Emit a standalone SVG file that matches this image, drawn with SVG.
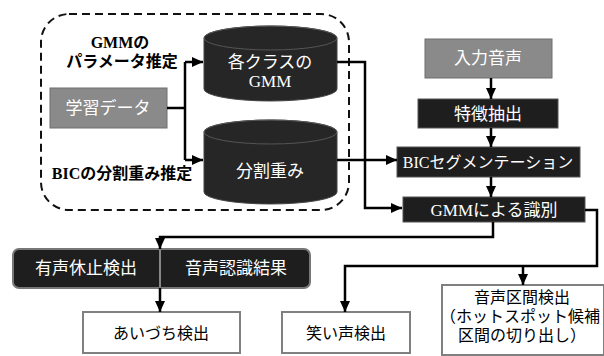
<svg xmlns="http://www.w3.org/2000/svg" width="604" height="356" viewBox="0 0 604 356">
<defs>
<marker id="ah" markerUnits="userSpaceOnUse" markerWidth="12" markerHeight="12" viewBox="0 0 12 12" refX="11" refY="6" orient="auto">
<path d="M0,1 L11,6 L0,11 Z" fill="#000"/>
</marker>
<style>
text{font-family:"Liberation Serif","Noto Sans CJK JP",sans-serif;font-size:16px;text-anchor:middle;dominant-baseline:central}
.w{fill:#fff;font-size:17px}
.k{fill:#000;font-weight:bold}
.gray{fill:#8a8a8a;stroke:#6e6e6e;stroke-width:1}
.blk{fill:#1e1e1e;stroke:#555;stroke-width:1}
.cyl{fill:#262626;stroke:#444;stroke-width:1}
.out{fill:#fff;stroke:#808080;stroke-width:2}
.c{fill:none;stroke:#000;stroke-width:2.5}
</style>
</defs>
<rect x="41" y="14" width="308" height="196" rx="28" ry="28" fill="none" stroke="#111" stroke-width="2" stroke-dasharray="8,5"/>
<g id="label-gmm"><text class="k" x="120" y="42">GMMの</text><text class="k" x="122" y="61">パラメータ推定</text></g>
<g id="label-bic"><text class="k" x="122" y="173">BICの分割重み推定</text></g>
<g id="gakushu"><rect class="gray" x="50" y="88" width="117" height="40"/><text class="w" x="108" y="108">学習データ</text></g>
<g id="cyl-gmm"><path class="cyl" d="M204,38 A66.5,12 0 0 1 337,38 V89 A66.5,12 0 0 1 204,89 Z"/><ellipse cx="270.5" cy="38" rx="66.5" ry="12" fill="none" stroke="#555" stroke-width="1"/><text class="w" x="270" y="62">各クラスの</text><text class="w" x="270" y="81">GMM</text></g>
<g id="cyl-bunkatsu"><path class="cyl" d="M204,132 A66.5,12 0 0 1 337,132 V192 A66.5,12 0 0 1 204,192 Z"/><ellipse cx="270.5" cy="132" rx="66.5" ry="12" fill="none" stroke="#555" stroke-width="1"/><text class="w" x="270" y="171">分割重み</text></g>
<g id="nyuryoku"><rect class="gray" x="425" y="39" width="127" height="39"/><text class="w" x="488" y="58">入力音声</text></g>
<g id="tokucho"><rect class="blk" x="418" y="99" width="140" height="29"/><text class="w" x="488" y="114">特徴抽出</text></g>
<g id="bicseg"><rect class="blk" x="397" y="147" width="183" height="30"/><text class="w" x="488" y="162" style="font-size:16px">BICセグメンテーション</text></g>
<g id="gmmshiki"><rect class="blk" x="403" y="197" width="182" height="25"/><text class="w" x="494" y="210">GMMによる識別</text></g>
<g id="yusei"><rect x="13" y="249" width="297" height="39" rx="6" fill="#1e1e1e" stroke="#777" stroke-width="2"/><line x1="160" y1="250" x2="160" y2="287" stroke="#888" stroke-width="2"/><text class="w" x="86" y="268">有声休止検出</text><text class="w" x="236" y="268">音声認識結果</text></g>
<g id="aizuchi"><rect class="out" x="83" y="312" width="157" height="41"/><text x="161" y="333">あいづち検出</text></g>
<g id="warai"><rect class="out" x="282" y="312" width="128" height="41"/><text x="346" y="333">笑い声検出</text></g>
<g id="onsei"><rect class="out" x="442" y="285" width="162" height="70"/><text x="522" y="297">音声区間検出</text><text x="520" y="316">（ホットスポット候補</text><text x="522" y="335">区間の切り出し）</text></g>
<g id="connectors">
<polyline class="c" points="167,108 185,108"/>
<polyline class="c" points="185,62 185,160"/>
<polyline class="c" points="185,62 203,62" marker-end="url(#ah)"/>
<polyline class="c" points="185,160 203,160" marker-end="url(#ah)"/>
<polyline class="c" points="337,62 365,62 365,208 402,208" marker-end="url(#ah)"/>
<polyline class="c" points="337,160 397,160" marker-end="url(#ah)"/>
<polyline class="c" points="491,78 491,99" marker-end="url(#ah)"/>
<polyline class="c" points="491,128 491,147" marker-end="url(#ah)"/>
<polyline class="c" points="491,177 491,197" marker-end="url(#ah)"/>
<polyline class="c" points="493,222 493,237 160,237 160,249" marker-end="url(#ah)"/>
<polyline class="c" points="585,210 597,210 597,266 345,266 345,312" marker-end="url(#ah)"/>
<polyline class="c" points="523,266 523,285" marker-end="url(#ah)"/>
<polyline class="c" points="160,288 160,312" marker-end="url(#ah)"/>
</g>
</svg>
